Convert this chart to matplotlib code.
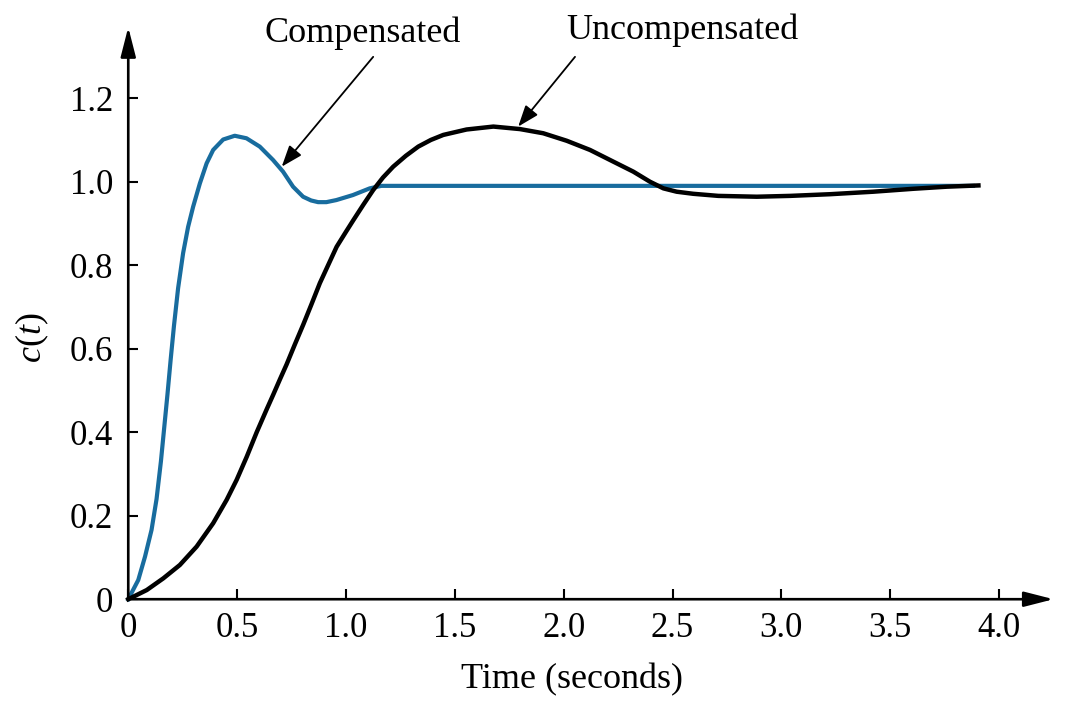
import matplotlib
matplotlib.use("Agg")
import matplotlib.pyplot as plt

plt.rcParams['font.family'] = ['Liberation Serif', 'DejaVu Serif']
plt.rcParams['mathtext.fontset'] = 'custom'
plt.rcParams['mathtext.rm'] = 'Liberation Serif'
plt.rcParams['mathtext.it'] = 'Liberation Serif:italic'

# compensated response
comp_t = [0, 0.046, 0.077, 0.107, 0.130, 0.150, 0.165, 0.180, 0.195, 0.210,
          0.229, 0.252, 0.275, 0.298, 0.329, 0.360, 0.390, 0.436, 0.489, 0.543,
          0.604, 0.665, 0.711, 0.757, 0.803, 0.840, 0.872, 0.910, 0.956, 1.032,
          1.109, 1.162, 3.88]
comp_c = [0, 0.046, 0.102, 0.166, 0.240, 0.330, 0.410, 0.490, 0.575, 0.655,
          0.745, 0.829, 0.892, 0.940, 0.996, 1.044, 1.076, 1.101, 1.110, 1.104,
          1.084, 1.052, 1.024, 0.988, 0.964, 0.955, 0.951, 0.951, 0.956, 0.968,
          0.984, 0.990, 0.990]

# uncompensated response
unc_t = [0, 0.085, 0.161, 0.237, 0.314, 0.390, 0.452, 0.498, 0.544, 0.590,
         0.636, 0.666, 0.697, 0.727, 0.765, 0.804, 0.842, 0.880, 0.918, 0.957,
         1.000, 1.034, 1.080, 1.125, 1.170, 1.217, 1.275, 1.332, 1.390, 1.447,
         1.554, 1.677, 1.799, 1.906, 2.014, 2.121, 2.228, 2.320, 2.396, 2.458,
         2.519, 2.595, 2.710, 2.887, 3.040, 3.223, 3.422, 3.606, 3.759, 3.905]
unc_c = [0, 0.022, 0.050, 0.082, 0.126, 0.182, 0.238, 0.286, 0.341, 0.400,
         0.455, 0.490, 0.527, 0.562, 0.610, 0.658, 0.707, 0.757, 0.800, 0.844,
         0.880, 0.908, 0.945, 0.980, 1.010, 1.036, 1.062, 1.084, 1.100, 1.112,
         1.125, 1.132, 1.126, 1.116, 1.098, 1.076, 1.048, 1.024, 1.000, 0.984,
         0.976, 0.971, 0.966, 0.964, 0.966, 0.970, 0.976, 0.983, 0.988, 0.991]

xticks = [0, 0.5, 1.0, 1.5, 2.0, 2.5, 3.0, 3.5, 4.0]
xtick_labels = ["0", "0.5", "1.0", "1.5", "2.0", "2.5", "3.0", "3.5", "4.0"]
yticks = [0, 0.2, 0.4, 0.6, 0.8, 1.0, 1.2]
ytick_labels = ["0", "0.2", "0.4", "0.6", "0.8", "1.0", "1.2"]

blue = '#186c9e'

fig = plt.figure(figsize=(10.67, 7.12), dpi=100)
ax = fig.add_axes([0.1202, 0.1584, 0.8672, 0.8034])
ax.set_xlim(0, 4.25)
ax.set_ylim(0, 1.37)

for s in ax.spines.values():
    s.set_visible(False)

# axis lines with arrow heads
axis_arrow = dict(arrowstyle='-|>,head_length=0.9,head_width=0.23',
                  mutation_scale=20, lw=1.9, color='black',
                  shrinkA=0, shrinkB=0)
ax.annotate('', xy=(4.25, 0), xytext=(0, 0), arrowprops=axis_arrow,
            annotation_clip=False)
ax.annotate('', xy=(0, 1.37), xytext=(0, 0), arrowprops=axis_arrow,
            annotation_clip=False)

ax.plot(comp_t, comp_c, color=blue, lw=3.0, clip_on=False,
        solid_joinstyle='round')
ax.plot(unc_t, unc_c, color='black', lw=3.2, clip_on=False,
        solid_joinstyle='round')

ax.set_xticks(xticks)
ax.set_xticklabels(xtick_labels)
ax.set_yticks(yticks)
ax.set_yticklabels(ytick_labels)
ax.tick_params(direction='in', length=7.2, width=1.5, labelsize=25)
ax.tick_params(axis='x', pad=9)
ax.tick_params(axis='y', pad=11)

ax.set_xlabel('Time (seconds)', fontsize=26)
ax.xaxis.set_label_coords(0.48, -0.141)
ax.xaxis.label.set_va('center')
ax.set_ylabel('$c(t)$', fontsize=26)
ax.yaxis.set_label_coords(-0.104, 0.457)
ax.yaxis.label.set_va('center')

label_arrow = dict(arrowstyle='-|>,head_length=0.65,head_width=0.24',
                   mutation_scale=20, lw=1.3, color='black',
                   shrinkA=0, shrinkB=0)
ax.annotate('', xy=(0.705, 1.036), xytext=(1.125, 1.299),
            arrowprops=label_arrow, annotation_clip=False)
ax.annotate('', xy=(1.791, 1.132), xytext=(2.052, 1.299),
            arrowprops=label_arrow, annotation_clip=False)
ax.text(1.078, 1.356, 'Compensated', fontsize=26, ha='center', va='center',
        clip_on=False)
ax.text(2.543, 1.363, 'Uncompensated', fontsize=26, ha='center', va='center',
        clip_on=False)

fig.savefig('out.png', dpi=100)
